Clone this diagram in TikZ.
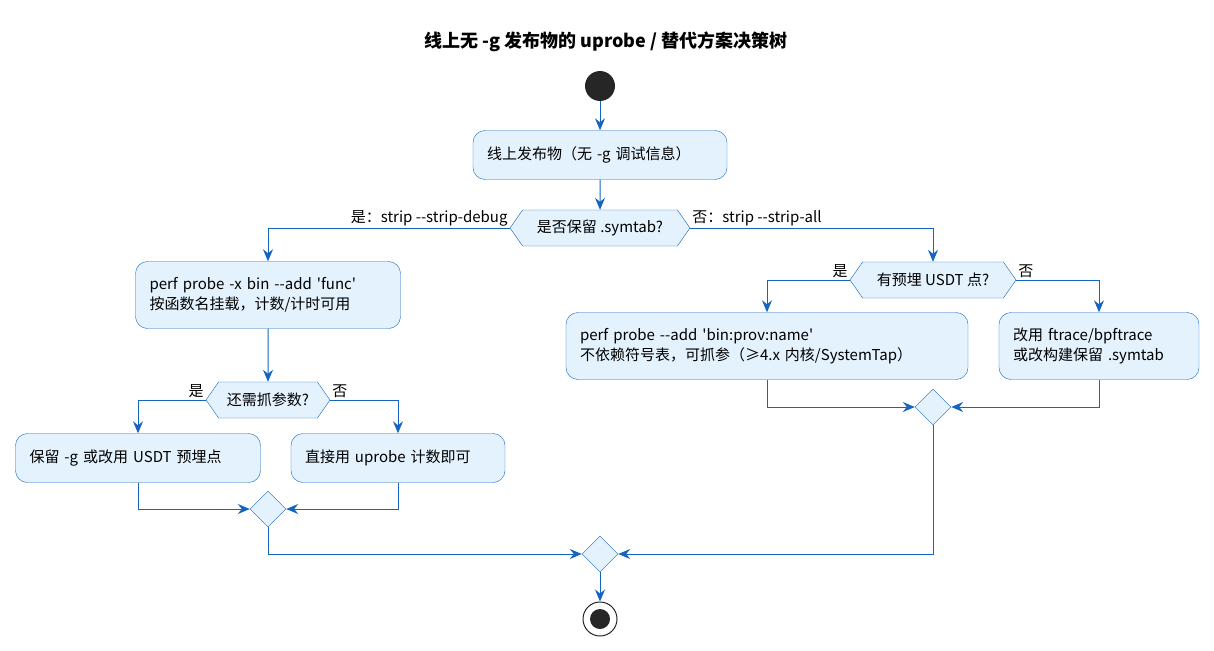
\documentclass[tikz,border=0pt]{standalone}
\usepackage{fontspec}
\setmainfont{Noto Sans CJK SC}[Ligatures=TeXOff]
\usetikzlibrary{arrows.meta,shapes.geometric,shapes.symbols}
\definecolor{lineblue}{HTML}{1565C0}
\definecolor{boxfill}{HTML}{E3F2FD}
\tikzset{
  actbox/.style={draw=lineblue, fill=boxfill, rounded corners=12pt, align=left,
    inner xsep=14pt, minimum height=49pt, font=\fontsize{15}{20}\selectfont},
  choice/.style={draw=lineblue, fill=boxfill, shape=signal, signal to=west and east,
    signal pointer angle=110, inner xsep=4pt, minimum height=36pt, font=\fontsize{15}{17}\selectfont},
  merge/.style={draw=lineblue, fill=boxfill, shape=diamond, minimum width=36pt, minimum height=36pt, inner sep=0pt},
  arr/.style={draw=lineblue, line width=1pt, -{Stealth[length=12pt,width=10pt,inset=4pt]}},
  lbl/.style={font=\fontsize{15}{17}\selectfont, inner sep=2pt}
}
\begin{document}
\begin{tikzpicture}[x=1pt,y=-1pt]
  \useasboundingbox (0,0) rectangle (1214,650);
  % title
  \node[font=\bfseries\fontsize{18}{21}\selectfont] (title) at (606,42) {线上无 -g 发布物的 uprobe / 替代方案决策树};
  % start / end
  \node[circle, fill=black!85, minimum size=30pt, inner sep=0pt] (start) at (600,86) {};
  \node[circle, draw=black!85, line width=1pt, minimum size=34pt, inner sep=0pt] (stop) at (600,619) {};
  \fill[black!85] (stop.center) circle (10);
  % actions
  \node[actbox, text width=226pt] (release) at (600,155) {线上发布物（无 -g 调试信息）};
  \node[choice, minimum width=180pt] (symtab) at (600,228) {是否保留 .symtab?};
  \node[actbox, text width=237pt, minimum height=67pt] (probefunc) at (268,295) {perf probe -x bin --add 'func'\\按函数名挂载，计数/计时可用};
  \node[choice, minimum width=124pt] (args) at (268,400) {还需抓参数?};
  \node[actbox, text width=217pt] (keepg) at (138,458) {保留 -g 或改用 USDT 预埋点};
  \node[actbox, text width=186pt] (count) at (398,458) {直接用 uprobe 计数即可};
  \node[merge] (mergeL) at (268,509) {};
  \node[choice, minimum width=166pt] (usdt) at (933,280) {有预埋 USDT 点?};
  \node[actbox, text width=374pt, minimum height=67pt] (probeusdt) at (767,346) {perf probe --add 'bin:prov:name'\\不依赖符号表，可抓参（≥4.x 内核/SystemTap）};
  \node[actbox, text width=172pt, minimum height=67pt] (ftrace) at (1099,346) {改用 ftrace/bpftrace\\或改构建保留 .symtab};
  \node[merge] (mergeR) at (933,407) {};
  \node[merge] (mergeAll) at (600,554) {};
  % connectors
  \draw[arr] (start) -- (release);
  \draw[arr] (release) -- (symtab);
  \draw[arr] (symtab.west) -| (probefunc.north);
  \node[lbl, anchor=south east] (lblyes1) at (symtab.west) {是：strip --strip-debug};
  \draw[arr] (symtab.east) -| (usdt.north);
  \node[lbl, anchor=south west] (lblno1) at (symtab.east) {否：strip --strip-all};
  \draw[arr] (probefunc) -- (args);
  \draw[arr] (args.west) -| (keepg.north);
  \node[lbl, anchor=south east] (lblyes2) at (args.west) {是};
  \draw[arr] (args.east) -| (count.north);
  \node[lbl, anchor=south west] (lblno2) at (args.east) {否};
  \draw[arr] (keepg.south) |- (mergeL.west);
  \draw[arr] (count.south) |- (mergeL.east);
  \draw[arr] (usdt.west) -| (probeusdt.north);
  \node[lbl, anchor=south east] (lblyes3) at (usdt.west) {是};
  \draw[arr] (usdt.east) -| (ftrace.north);
  \node[lbl, anchor=south west] (lblno3) at (usdt.east) {否};
  \draw[arr] (probeusdt.south) |- (mergeR.west);
  \draw[arr] (ftrace.south) |- (mergeR.east);
  \draw[arr] (mergeL.south) |- (mergeAll.west);
  \draw[arr] (mergeR.south) |- (mergeAll.east);
  \draw[arr] (mergeAll) -- (stop);
\end{tikzpicture}
\end{document}
